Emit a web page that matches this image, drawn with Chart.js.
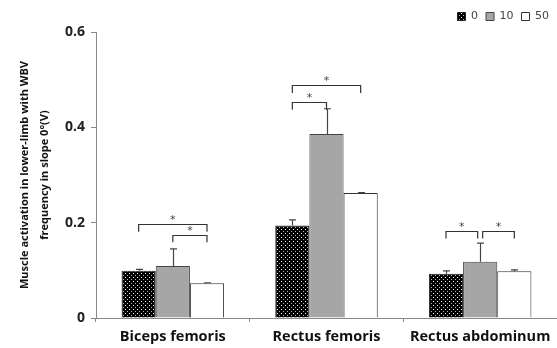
<!DOCTYPE html>
<html>
<head>
<meta charset="utf-8">
<script src="https://cdn.jsdelivr.net/npm/chart.js@4"></script>
<style>
  html, body { margin: 0; padding: 0; background: #fff; }
  #wrap { width: 557px; height: 348px; }
</style>
</head>
<body>
<div id="wrap"><canvas id="myChart"></canvas></div>
<script>
'use strict';

var muscles = ['Biceps femoris', 'Rectus femoris', 'Rectus abdominum'];
var seriesNames = ['0', '10', '50'];
var hz0 = [0.099, 0.194, 0.093];
var hz10 = [0.109, 0.386, 0.118];
var hz50 = [0.073, 0.262, 0.098];
var sd0 = [0.003, 0.012, 0.006];
var sd10 = [0.036, 0.053, 0.039];
var sd50 = [0.001, 0.001, 0.003];
var yTicks = [0, 0.2, 0.4, 0.6];

// significance brackets: category, from bar, to bar, height (value units)
var brackets = [
  { cat: 0, from: 0, to: 2, y: 0.197, inset: 0 },
  { cat: 0, from: 1, to: 2, y: 0.175, inset: 0 },
  { cat: 1, from: 0, to: 2, y: 0.488, inset: 0 },
  { cat: 1, from: 0, to: 1, y: 0.453, inset: 0 },
  { cat: 2, from: 0, to: 1, y: 0.183, inset: 2.5 },
  { cat: 2, from: 1, to: 2, y: 0.183, inset: 2.5 }
];

function dotPattern() {
  var c = document.createElement('canvas');
  c.width = 4;
  c.height = 4;
  var g = c.getContext('2d');
  g.fillStyle = '#000';
  g.fillRect(0, 0, 4, 4);
  g.fillStyle = '#fff';
  g.fillRect(1, 1, 1, 1);
  g.fillStyle = '#bbb';
  g.fillRect(3, 3, 1, 1);
  return g.createPattern(c, 'repeat');
}

var errorBars = {
  id: 'errorBars',
  afterDatasetsDraw: function(chart) {
    var ctx = chart.ctx;
    var y = chart.scales.y;
    var sds = [sd0, sd10, sd50];
    ctx.save();
    ctx.strokeStyle = '#444';
    ctx.lineWidth = 1.2;
    chart.data.datasets.forEach(function(ds, i) {
      var meta = chart.getDatasetMeta(i);
      meta.data.forEach(function(bar, j) {
        var x = Math.round(bar.x) + 0.5;
        var top = y.getPixelForValue(ds.data[j] + sds[i][j]);
        ctx.beginPath();
        ctx.moveTo(x, bar.y);
        ctx.lineTo(x, top);
        ctx.moveTo(x - 3.5, top);
        ctx.lineTo(x + 3.5, top);
        ctx.stroke();
      });
    });
    ctx.restore();
  }
};

var sigBrackets = {
  id: 'sigBrackets',
  afterDatasetsDraw: function(chart) {
    var ctx = chart.ctx;
    var y = chart.scales.y;
    ctx.save();
    ctx.strokeStyle = '#333';
    ctx.fillStyle = '#444';
    ctx.lineWidth = 1.2;
    ctx.font = '11px "DejaVu Sans"';
    ctx.textAlign = 'center';
    ctx.textBaseline = 'alphabetic';
    brackets.forEach(function(b) {
      var x1 = chart.getDatasetMeta(b.from).data[b.cat].x;
      var x2 = chart.getDatasetMeta(b.to).data[b.cat].x;
      if (b.inset) {
        if (b.from === 1) x1 += b.inset; else x2 -= b.inset;
      }
      var yt = Math.round(y.getPixelForValue(b.y)) + 0.5;
      var yb = y.getPixelForValue(b.y - 0.016);
      ctx.beginPath();
      ctx.moveTo(x1, yb);
      ctx.lineTo(x1, yt);
      ctx.lineTo(x2, yt);
      ctx.lineTo(x2, yb);
      ctx.stroke();
      ctx.fillText('*', (x1 + x2) / 2, yt - 2);
    });
    ctx.restore();
  }
};

var ctx = document.getElementById('myChart').getContext('2d');
var chart = new Chart(ctx, {
  type: 'bar',
  data: {
    labels: muscles,
    datasets: [
      { label: seriesNames[0], data: hz0, backgroundColor: dotPattern(), borderColor: '#222', borderWidth: 1 },
      { label: seriesNames[1], data: hz10, backgroundColor: '#a6a6a6', borderColor: '#444', borderWidth: 1 },
      { label: seriesNames[2], data: hz50, backgroundColor: '#ffffff', borderColor: '#333', borderWidth: 1 }
    ]
  },
  plugins: [errorBars, sigBrackets],
  options: {
    responsive: true,
    maintainAspectRatio: false,
    animation: false,
    layout: { padding: { top: 3, right: 0, left: 15, bottom: 0 } },
    datasets: { bar: { barPercentage: 1, categoryPercentage: 0.667 } },
    plugins: {
      tooltip: { enabled: false },
      legend: {
        position: 'top',
        align: 'end',
        labels: {
          boxWidth: 8,
          boxHeight: 8,
          padding: 8,
          color: '#444',
          font: { family: 'DejaVu Sans', size: 11 }
        }
      }
    },
    scales: {
      x: {
        afterFit: function(scale) { scale.height = 30; },
        grid: { drawOnChartArea: false, offset: true, tickLength: 4, color: '#888' },
        border: { color: '#888' },
        ticks: { color: '#111', font: { family: 'Open Sans', size: 14.5, weight: 'bold' }, padding: 6 }
      },
      y: {
        min: yTicks[0],
        max: yTicks[yTicks.length - 1],
        afterBuildTicks: function(scale) {
          scale.ticks = yTicks.map(function(v) { return { value: v }; });
        },
        afterFit: function(scale) { scale.width = 81; },
        grid: { drawOnChartArea: false, tickLength: 5, color: '#888' },
        border: { color: '#888' },
        ticks: { color: '#222', font: { family: 'Open Sans', size: 14, weight: 'bold' }, padding: 6 },
        title: {
          display: true,
          text: ['Muscle activation in lower-limb with WBV', 'frequency in slope 0\u00b0(V)'],
          color: '#111',
          font: { family: 'Open Sans', size: 11, weight: 'bold', lineHeight: 1.8 },
          padding: { top: 0, bottom: 4 }
        }
      }
    }
  }
});
</script>
</body>
</html>
